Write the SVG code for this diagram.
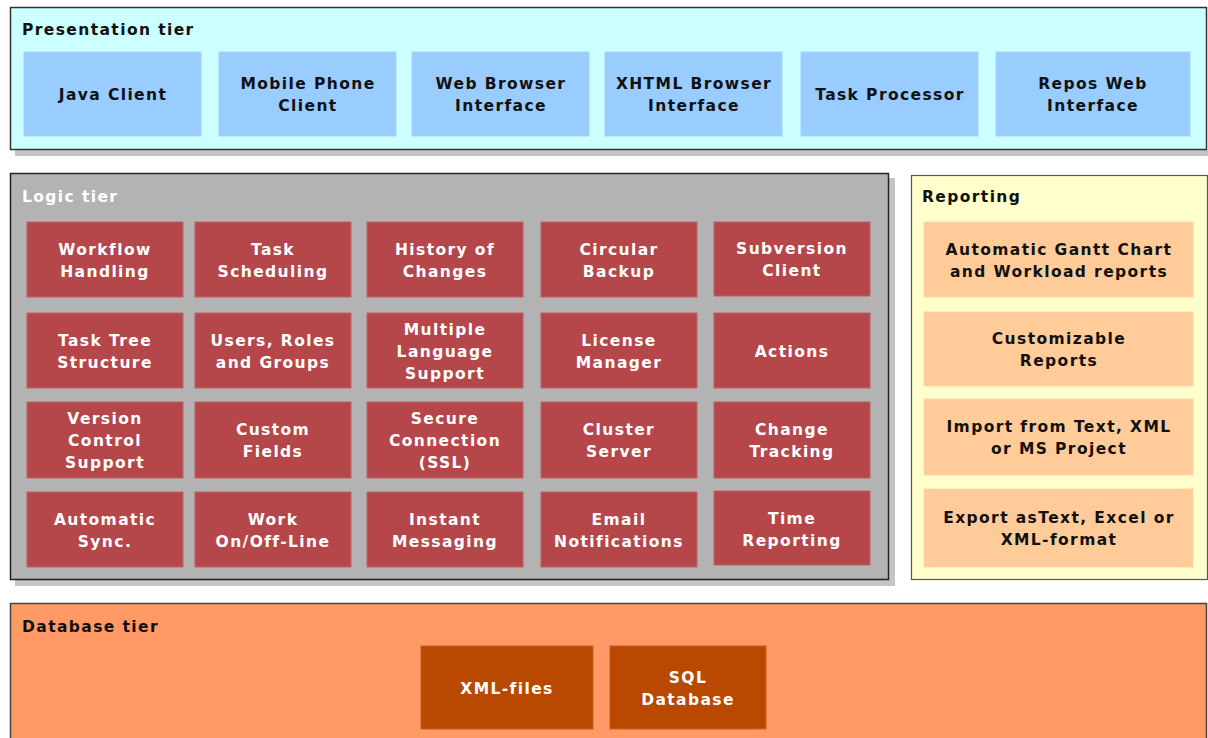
<svg xmlns="http://www.w3.org/2000/svg" width="1208" height="738" viewBox="0 0 1208 738">
  <style>
    text { font-family: "DejaVu Sans", Verdana, sans-serif; font-weight: bold; font-size: 15.5px; letter-spacing: 1.4px; }
    .title { text-anchor: start; }
    .lbl { text-anchor: middle; }
    .dark { fill: #111111; }
    .light { fill: #ffffff; }
    .shadow { fill: #c4c4c4; }
    .pres { fill: #ccffff; stroke: #333333; stroke-width: 1.5; }
    .logic { fill: #b3b3b3; stroke: #222222; stroke-width: 1.5; }
    .rep { fill: #ffffcc; stroke: #555555; stroke-width: 1.2; }
    .db { fill: #ff9966; stroke: #444444; stroke-width: 1.5; }
    .pbox { fill: #99ccff; stroke: #a6d2ff; stroke-width: 1; }
    .lbox { fill: #b5474a; stroke: #c06366; stroke-width: 1; }
    .rbox { fill: #ffcc99; stroke: #ffd6aa; stroke-width: 1; }
    .dbox { fill: #b94800; stroke: #c66020; stroke-width: 1; }
  </style>

  <!-- tier panels -->
  <g id="presentation-tier">
    <rect class="shadow" x="15" y="150" width="1193" height="6"/>
    <rect class="pres" x="10.5" y="7.5" width="1196" height="142"/>
    <text class="title dark" x="22" y="35">Presentation tier</text>
  </g>
  <g id="logic-tier">
    <rect class="shadow" x="889" y="178" width="6" height="408"/>
    <rect class="shadow" x="15" y="580" width="880" height="6"/>
    <rect class="logic" x="10.5" y="173.5" width="878" height="406"/>
    <text class="title light" x="22" y="202">Logic tier</text>
  </g>
  <g id="reporting">
    <rect class="rep" x="911.5" y="175.5" width="296" height="404"/>
    <text class="title dark" x="922" y="202">Reporting</text>
  </g>
  <g id="database-tier">
    <rect class="db" x="10.5" y="603.5" width="1196" height="140"/>
    <text class="title dark" x="22" y="632">Database tier</text>
  </g>

  <!-- presentation components -->
  <g id="java-client"><rect class="pbox" x="24" y="52" width="177" height="84"/><text class="lbl dark" x="113" y="100">Java Client</text></g>
  <g id="mobile-phone-client"><rect class="pbox" x="219" y="52" width="177" height="84"/><text class="lbl dark" x="308" y="89">Mobile Phone</text><text class="lbl dark" x="308" y="111">Client</text></g>
  <g id="web-browser-interface"><rect class="pbox" x="412" y="52" width="177" height="84"/><text class="lbl dark" x="501" y="89">Web Browser</text><text class="lbl dark" x="501" y="111">Interface</text></g>
  <g id="xhtml-browser-interface"><rect class="pbox" x="605" y="52" width="177" height="84"/><text class="lbl dark" x="694" y="89">XHTML Browser</text><text class="lbl dark" x="694" y="111">Interface</text></g>
  <g id="task-processor"><rect class="pbox" x="801" y="52" width="177" height="84"/><text class="lbl dark" x="890" y="100">Task Processor</text></g>
  <g id="repos-web-interface"><rect class="pbox" x="996" y="52" width="194" height="84"/><text class="lbl dark" x="1093" y="89">Repos Web</text><text class="lbl dark" x="1093" y="111">Interface</text></g>

  <!-- logic components, row 1 -->
  <g id="workflow-handling"><rect class="lbox" x="27" y="222" width="156" height="75"/><text class="lbl light" x="105" y="255">Workflow</text><text class="lbl light" x="105" y="277">Handling</text></g>
  <g id="task-scheduling"><rect class="lbox" x="195" y="222" width="156" height="75"/><text class="lbl light" x="273" y="255">Task</text><text class="lbl light" x="273" y="277">Scheduling</text></g>
  <g id="history-of-changes"><rect class="lbox" x="367" y="222" width="156" height="75"/><text class="lbl light" x="445" y="255">History of</text><text class="lbl light" x="445" y="277">Changes</text></g>
  <g id="circular-backup"><rect class="lbox" x="541" y="222" width="156" height="75"/><text class="lbl light" x="619" y="255">Circular</text><text class="lbl light" x="619" y="277">Backup</text></g>
  <g id="subversion-client"><rect class="lbox" x="714" y="222" width="156" height="74"/><text class="lbl light" x="792" y="254">Subversion</text><text class="lbl light" x="792" y="276">Client</text></g>

  <!-- logic components, row 2 -->
  <g id="task-tree-structure"><rect class="lbox" x="27" y="313" width="156" height="75"/><text class="lbl light" x="105" y="346">Task Tree</text><text class="lbl light" x="105" y="368">Structure</text></g>
  <g id="users-roles-groups"><rect class="lbox" x="195" y="313" width="156" height="75"/><text class="lbl light" x="273" y="346">Users, Roles</text><text class="lbl light" x="273" y="368">and Groups</text></g>
  <g id="multiple-language-support"><rect class="lbox" x="367" y="313" width="156" height="75"/><text class="lbl light" x="445" y="335">Multiple</text><text class="lbl light" x="445" y="357">Language</text><text class="lbl light" x="445" y="379">Support</text></g>
  <g id="license-manager"><rect class="lbox" x="541" y="313" width="156" height="75"/><text class="lbl light" x="619" y="346">License</text><text class="lbl light" x="619" y="368">Manager</text></g>
  <g id="actions"><rect class="lbox" x="714" y="313" width="156" height="75"/><text class="lbl light" x="792" y="357">Actions</text></g>

  <!-- logic components, row 3 -->
  <g id="version-control-support"><rect class="lbox" x="27" y="402" width="156" height="76"/><text class="lbl light" x="105" y="424">Version</text><text class="lbl light" x="105" y="446">Control</text><text class="lbl light" x="105" y="468">Support</text></g>
  <g id="custom-fields"><rect class="lbox" x="195" y="402" width="156" height="76"/><text class="lbl light" x="273" y="435">Custom</text><text class="lbl light" x="273" y="457">Fields</text></g>
  <g id="secure-connection"><rect class="lbox" x="367" y="402" width="156" height="76"/><text class="lbl light" x="445" y="424">Secure</text><text class="lbl light" x="445" y="446">Connection</text><text class="lbl light" x="445" y="468">(SSL)</text></g>
  <g id="cluster-server"><rect class="lbox" x="541" y="402" width="156" height="76"/><text class="lbl light" x="619" y="435">Cluster</text><text class="lbl light" x="619" y="457">Server</text></g>
  <g id="change-tracking"><rect class="lbox" x="714" y="402" width="156" height="76"/><text class="lbl light" x="792" y="435">Change</text><text class="lbl light" x="792" y="457">Tracking</text></g>

  <!-- logic components, row 4 -->
  <g id="automatic-sync"><rect class="lbox" x="27" y="492" width="156" height="75"/><text class="lbl light" x="105" y="525">Automatic</text><text class="lbl light" x="105" y="547">Sync.</text></g>
  <g id="work-on-off-line"><rect class="lbox" x="195" y="492" width="156" height="75"/><text class="lbl light" x="273" y="525">Work</text><text class="lbl light" x="273" y="547">On/Off-Line</text></g>
  <g id="instant-messaging"><rect class="lbox" x="367" y="492" width="156" height="75"/><text class="lbl light" x="445" y="525">Instant</text><text class="lbl light" x="445" y="547">Messaging</text></g>
  <g id="email-notifications"><rect class="lbox" x="541" y="492" width="156" height="75"/><text class="lbl light" x="619" y="525">Email</text><text class="lbl light" x="619" y="547">Notifications</text></g>
  <g id="time-reporting"><rect class="lbox" x="714" y="491" width="156" height="74"/><text class="lbl light" x="792" y="524">Time</text><text class="lbl light" x="792" y="546">Reporting</text></g>

  <!-- reporting components -->
  <g id="gantt-workload-reports"><rect class="rbox" x="924" y="222" width="269" height="75"/><text class="lbl dark" x="1059" y="255">Automatic Gantt Chart</text><text class="lbl dark" x="1059" y="277">and Workload reports</text></g>
  <g id="customizable-reports"><rect class="rbox" x="924" y="312" width="269" height="74"/><text class="lbl dark" x="1059" y="344">Customizable</text><text class="lbl dark" x="1059" y="366">Reports</text></g>
  <g id="import-formats"><rect class="rbox" x="924" y="399" width="269" height="76"/><text class="lbl dark" x="1059" y="432">Import from Text, XML</text><text class="lbl dark" x="1059" y="454">or MS Project</text></g>
  <g id="export-formats"><rect class="rbox" x="924" y="489" width="269" height="78"/><text class="lbl dark" x="1059" y="523">Export asText, Excel or</text><text class="lbl dark" x="1059" y="545">XML-format</text></g>

  <!-- database components -->
  <g id="xml-files"><rect class="dbox" x="421" y="646" width="172" height="83"/><text class="lbl light" x="507" y="694">XML-files</text></g>
  <g id="sql-database"><rect class="dbox" x="610" y="646" width="156" height="83"/><text class="lbl light" x="688" y="683">SQL</text><text class="lbl light" x="688" y="705">Database</text></g>

  <!-- no connectors are drawn between components -->
  <g id="connectors"/>
</svg>
